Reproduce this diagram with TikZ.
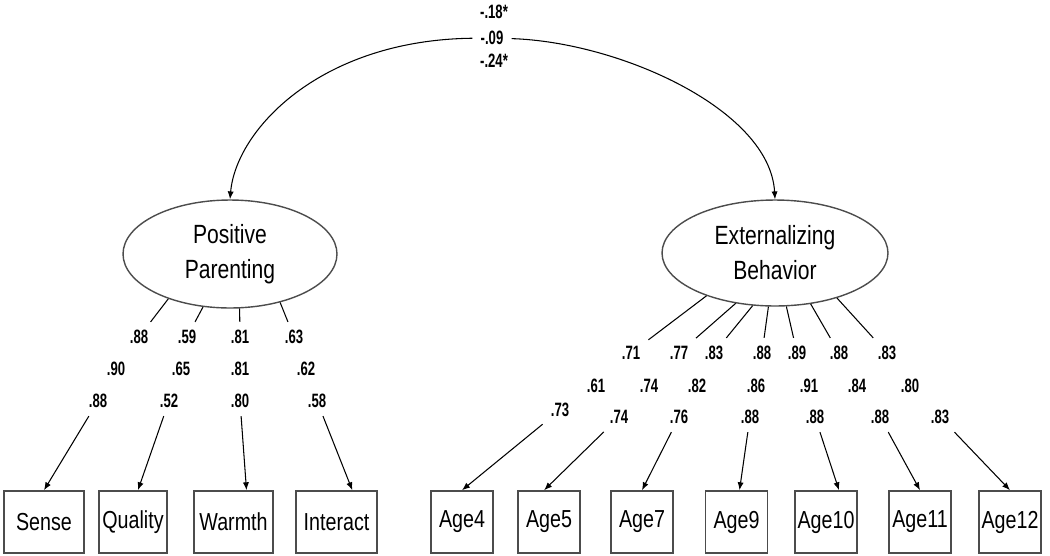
\documentclass[tikz,border=0pt]{standalone}
\usepackage{fontspec}
\setmainfont{Liberation Sans}
\newfontfamily\narrowfont[FakeStretch=0.8]{Liberation Sans}
\newfontfamily\numfont[FakeStretch=0.68]{Liberation Sans}
\usetikzlibrary{shapes.geometric,arrows.meta}
\tikzset{
  latent/.style={ellipse, draw=black!70, line width=0.8pt, inner sep=0pt, align=center,
    font=\narrowfont\fontsize{15}{20}\selectfont},
  ind/.style={rectangle, draw=black!70, line width=0.9pt, minimum height=1.24cm, inner sep=0pt,
    font=\narrowfont\fontsize{14}{16}\selectfont},
  load/.style={inner sep=4.5pt, font=\numfont\bfseries\fontsize{11}{13}\selectfont},
  path/.style={-{Latex[length=4.5pt,width=3.5pt]}, line width=0.6pt},
  link/.style={line width=0.6pt}
}
\begin{document}
\begin{tikzpicture}[x=0.02cm,y=-0.02cm]
\useasboundingbox (0,0) rectangle (1050,555);
%%Latente Variablen
\node[latent, minimum width=4.28cm, minimum height=2.16cm] (pp) at (230,254) {Positive\\Parenting};
\node[latent, minimum width=4.52cm, minimum height=2.12cm] (eb) at (775,253) {Externalizing\\Behavior};
%%Kovarianz
\node[load] (c1) at (494,12) {-.18*};
\node[load] (cov) at (492,38) {-.09};
\node[load] (c3) at (494,61) {-.24*};
\draw[path] (cov) .. controls (320,40) and (236,130) .. (pp.north);
\draw[path] (cov) .. controls (620,42) and (770,110) .. (eb.north);
%%Indikatoren links
\node[ind, minimum width=1.6cm] (sense) at (44,522) {Sense};
\node[ind, minimum width=1.36cm] (quality) at (133,522) {Quality};
\node[ind, minimum width=1.58cm] (warmth) at (233.5,522) {Warmth};
\node[ind, minimum width=1.62cm] (interact) at (336.5,522) {Interact};
%%Indikatoren rechts
\node[ind, minimum width=1.24cm] (age4) at (462,522) {Age4};
\node[ind, minimum width=1.24cm] (age5) at (549,522) {Age5};
\node[ind, minimum width=1.24cm] (age7) at (642,522) {Age7};
\node[ind, minimum width=1.24cm] (age9) at (736.5,522) {Age9};
\node[ind, minimum width=1.24cm] (age10) at (826,522) {Age10};
\node[ind, minimum width=1.24cm] (age11) at (920,522) {Age11};
\node[ind, minimum width=1.24cm] (age12) at (1010,522) {Age12};
%%Ladungen links
\foreach \n/\ang/\dx/\xa/\xb/\xc/\va/\vb/\vc in {
  sense/-144/0/139/116/98/.88/.90/.88,
  quality/-117/2.8/187/181/169/.59/.65/.52,
  warmth/-80/7.4/240/240/240/.81/.81/.80,
  interact/-44/9/294/306/317/.63/.62/.58}{
  \node[load] (\n1) at (\xa,337) {\va};
  \node[load] (\n2) at (\xb,369) {\vb};
  \node[load] (\n3) at (\xc,401) {\vc};
  \draw[link] (pp.\ang) -- (\n1);
  \draw[path] (\n3) -- ([xshift=\dx pt]\n.north);
}
%%Ladungen rechts
\foreach \n/\ang/\dx/\xa/\xb/\xc/\yc/\va/\vb/\vc in {
  age4/-148/0/631/596/560/410/.71/.61/.73,
  age5/-128/-2.8/679/649/619/417/.77/.74/.74,
  age7/-113/0/714/697/679/417/.83/.82/.76,
  age9/-97/1.7/762/756/750/417/.88/.86/.88,
  age10/-78/7.4/797/809/815/417/.89/.91/.88,
  age11/-55/0/839/857/880/417/.88/.84/.88,
  age12/-36/0/887/910/940/417/.83/.80/.83}{
  \node[load] (\n1) at (\xa,353) {\va};
  \node[load] (\n2) at (\xb,386) {\vb};
  \node[load] (\n3) at (\xc,\yc) {\vc};
  \draw[link] (eb.\ang) -- (\n1);
  \draw[path] (\n3) -- ([xshift=\dx pt]\n.north);
}
\end{tikzpicture}
\end{document}
